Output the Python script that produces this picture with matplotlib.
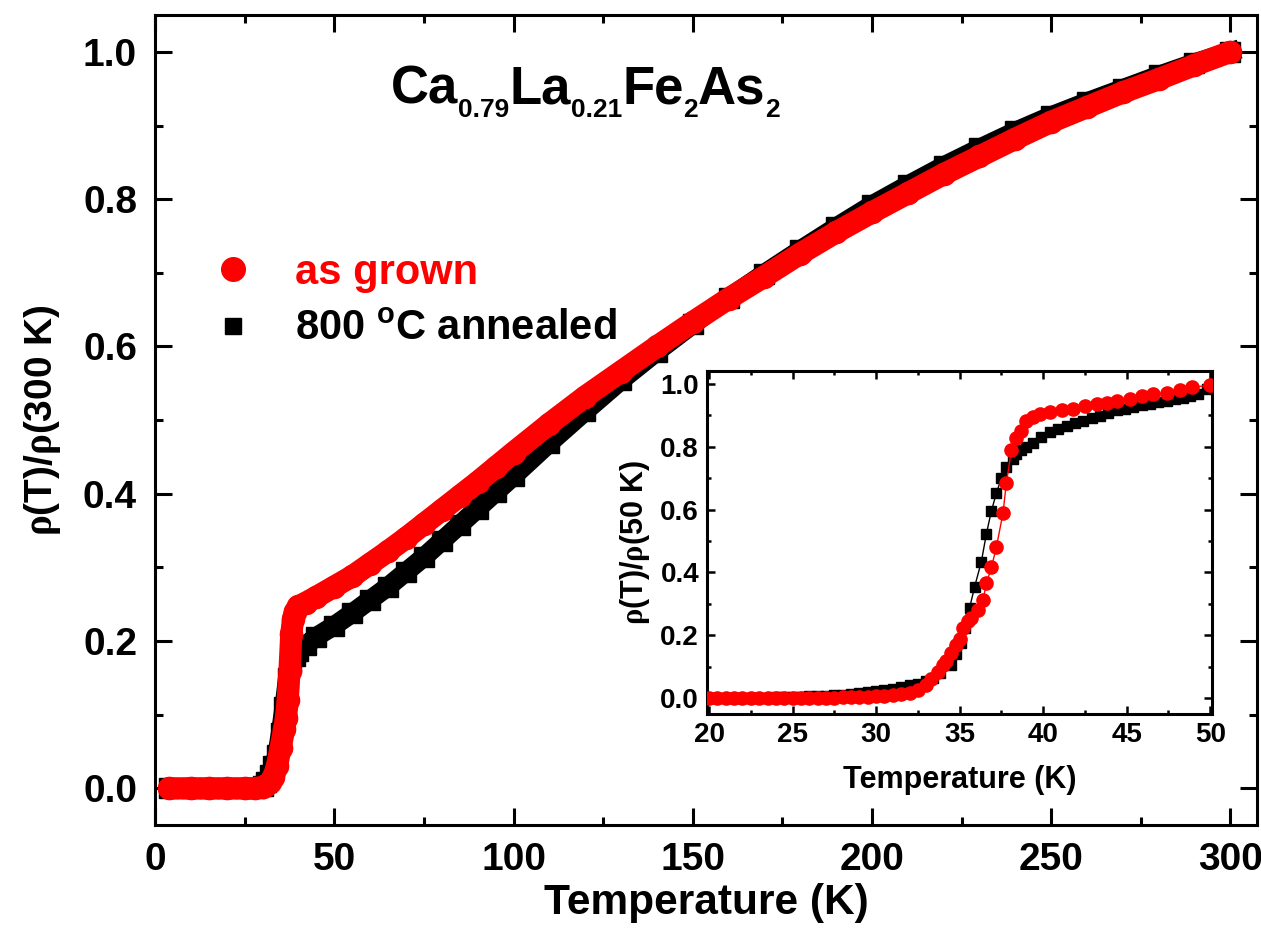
import matplotlib
matplotlib.use("Agg")
import matplotlib.pyplot as plt
from matplotlib import font_manager
from matplotlib.ticker import MultipleLocator
from matplotlib.transforms import offset_copy

plt.rcParams['font.family'] = ['Liberation Sans', 'DejaVu Sans']
plt.rcParams['font.weight'] = 'bold'
plt.rcParams['mathtext.fontset'] = 'custom'
plt.rcParams['mathtext.rm'] = 'Liberation Sans:bold'
plt.rcParams['mathtext.bf'] = 'Liberation Sans:bold'
plt.rcParams['mathtext.it'] = 'Liberation Serif'

# main panel: rho(T)/rho(300 K)
T_grown = [4, 10, 15, 20, 25, 28, 30, 31, 32, 33, 34, 35, 36, 36.5, 37, 37.5,
           38, 38.5, 39, 40, 42, 45, 50, 55, 60, 65, 70, 75, 80, 85, 90, 95,
           100, 110, 120, 130, 140, 150, 160, 170, 180, 190, 200, 210, 220,
           230, 240, 250, 260, 270, 280, 290, 300]
rho_grown = [0.0, 0.0, 0.0, 0.0, 0.0, 0.0, 0.002, 0.004, 0.008, 0.015, 0.03,
             0.055, 0.08, 0.095, 0.12, 0.16, 0.21, 0.23, 0.24, 0.247, 0.252,
             0.26, 0.274, 0.288, 0.305, 0.322, 0.34, 0.359, 0.378, 0.397,
             0.416, 0.436, 0.456, 0.495, 0.532, 0.566, 0.60, 0.633, 0.665,
             0.695, 0.726, 0.755, 0.782, 0.808, 0.834, 0.858, 0.882, 0.905,
             0.925, 0.945, 0.963, 0.982, 1.0]

T_ann = [4, 10, 15, 20, 25, 28, 30, 31, 32, 33, 34, 35, 36, 37, 38, 39, 40,
         42, 45, 50, 55, 60, 65, 70, 75, 80, 85, 90, 95, 100, 110, 120, 130,
         140, 150, 160, 170, 180, 190, 200, 210, 220, 230, 240, 250, 260, 270,
         280, 290, 300]
rho_ann = [0.0, 0.0, 0.0, 0.0, 0.0, 0.001, 0.003, 0.008, 0.018, 0.03, 0.045,
           0.075, 0.11, 0.15, 0.172, 0.18, 0.186, 0.194, 0.206, 0.221, 0.238,
           0.256, 0.274, 0.294, 0.314, 0.336, 0.358, 0.38, 0.402, 0.424,
           0.469, 0.512, 0.554, 0.593, 0.63, 0.666, 0.699, 0.731, 0.762,
           0.792, 0.819, 0.845, 0.869, 0.892, 0.913, 0.932, 0.95, 0.968,
           0.985, 1.0]

# inset: rho(T)/rho(50 K)
Ti_grown = [20, 20.5, 21, 21.5, 22, 22.5, 23, 23.5, 24, 24.5, 25, 25.5, 26,
            26.5, 27, 27.5, 28, 28.5, 29, 29.5, 30, 30.5, 31, 31.5, 32, 32.5,
            33, 33.3, 33.7, 34, 34.2, 34.5, 34.8, 35, 35.2, 35.5, 35.7, 36.1,
            36.4, 36.6, 36.9, 37.2, 37.6, 37.8, 38.1, 38.4, 38.7, 39.0, 39.4,
            39.8, 40.4, 41.1, 41.8, 42.5, 43.2, 43.8, 44.4, 45.2, 45.9, 46.6,
            47.4, 48.2, 48.9, 50.0]
ri_grown = [0.0, 0.0, 0.0, 0.0, 0.0, 0.0, 0.0, 0.0, 0.001, 0.001, 0.001,
            0.001, 0.001, 0.002, 0.002, 0.002, 0.003, 0.003, 0.004, 0.005,
            0.006, 0.008, 0.01, 0.013, 0.018, 0.027, 0.042, 0.06, 0.085,
            0.105, 0.118, 0.143, 0.17, 0.19, 0.222, 0.245, 0.255, 0.28,
            0.312, 0.365, 0.416, 0.48, 0.59, 0.685, 0.788, 0.829, 0.851,
            0.883, 0.895, 0.905, 0.91, 0.915, 0.92, 0.928, 0.937, 0.94, 0.946,
            0.953, 0.962, 0.966, 0.972, 0.98, 0.989, 0.995]

Ti_ann = [20, 20.5, 21, 21.5, 22, 22.5, 23, 23.5, 24, 24.5, 25, 25.5, 26,
          26.5, 27, 27.5, 28, 28.5, 29, 29.5, 30, 30.5, 31, 31.5, 32, 32.5,
          33, 33.4, 33.8, 34.5, 34.8, 35.1, 35.3, 35.6, 35.9, 36.3, 36.6,
          36.9, 37.2, 37.5, 37.8, 38.2, 38.4, 38.7, 39.0, 39.4, 39.9, 40.4,
          40.9, 41.4, 41.9, 42.4, 42.9, 43.4, 43.9, 44.4, 44.9, 45.4, 45.9,
          46.4, 46.9, 47.4, 47.9, 48.4, 48.8, 49.3, 49.8]
ri_ann = [0.0, 0.0, 0.0, 0.001, 0.001, 0.001, 0.002, 0.002, 0.003, 0.003,
          0.004, 0.005, 0.006, 0.007, 0.008, 0.01, 0.012, 0.014, 0.017, 0.02,
          0.023, 0.027, 0.031, 0.036, 0.041, 0.047, 0.055, 0.065, 0.08,
          0.107, 0.14, 0.177, 0.225, 0.288, 0.355, 0.434, 0.522, 0.595,
          0.652, 0.70, 0.735, 0.76, 0.778, 0.79, 0.80, 0.813, 0.83, 0.845,
          0.857, 0.867, 0.876, 0.883, 0.891, 0.899, 0.907, 0.915, 0.92,
          0.925, 0.931, 0.937, 0.941, 0.946, 0.951, 0.956, 0.962, 0.968,
          0.984]

formula = [('Ca', False), ('0.79', True), ('La', False), ('0.21', True),
           ('Fe', False), ('2', True), ('As', False), ('2', True)]

RED = '#ff0000'

names = {f.name for f in font_manager.fontManager.ttflist}
narrow = 'Liberation Sans Narrow' if 'Liberation Sans Narrow' in names else 'Liberation Sans'

fig = plt.figure(figsize=(12.61, 9.42), dpi=100)
ax = fig.add_axes([0.123, 0.124, 0.874, 0.860])

# dense data drawn as thick band plus markers
ax.plot(T_ann, rho_ann, color='black', lw=14, solid_joinstyle='miter', zorder=2)
ax.plot(T_ann, rho_ann, 's', color='black', ms=14, zorder=2)
ax.plot(T_grown, rho_grown, color=RED, lw=16, solid_capstyle='round',
        solid_joinstyle='round', zorder=3)
ax.plot(T_grown, rho_grown, 'o', color=RED, ms=16, zorder=3)

ax.set_xlim(0, 307.5)
ax.set_ylim(-0.05, 1.05)
ax.xaxis.set_major_locator(MultipleLocator(50))
ax.xaxis.set_minor_locator(MultipleLocator(25))
ax.yaxis.set_major_locator(MultipleLocator(0.2))
ax.yaxis.set_minor_locator(MultipleLocator(0.1))
ax.tick_params(which='both', direction='in', top=True, right=True, width=2.2)
ax.tick_params(which='major', length=12, labelsize=28)
ax.tick_params(axis='x', which='major', pad=12)
ax.tick_params(axis='y', which='major', pad=13)
ax.tick_params(which='minor', length=6)
for s in ax.spines.values():
    s.set_linewidth(2.2)
for lab in ax.get_xticklabels() + ax.get_yticklabels():
    lab.set_fontweight('bold')
ax.set_xlabel('Temperature (K)', fontsize=30.5, fontweight='bold', labelpad=4)
ax.set_ylabel(r'$\rho$(T)/$\rho$(300 K)', fontsize=28, fontweight='bold',
              labelpad=14)

# chemical formula with small, lowered subscripts
renderer = fig.canvas.get_renderer()
off = 0.0
for piece, sub in formula:
    tr = offset_copy(ax.transAxes, fig=fig, x=off, y=-10 if sub else 0,
                     units='points')
    t = ax.text(0.214, 0.891, piece, transform=tr, ha='left', va='baseline',
                fontsize=19 if sub else 38, fontweight='bold')
    off += t.get_window_extent(renderer).width * 72.0 / fig.dpi

h1, = ax.plot([], [], 'o', color=RED, ms=17)
h2, = ax.plot([], [], 's', color='black', ms=12)
leg = ax.legend([h1, h2], ['as grown', r'800 $\mathregular{^o}$C annealed'],
                loc='center left', bbox_to_anchor=(0.0517, 0.647),
                frameon=False, handlelength=1.0, handletextpad=0.99,
                labelspacing=0.39, borderpad=0, borderaxespad=0,
                prop={'weight': 'bold', 'size': 30})
leg.get_texts()[0].set_color(RED)

# inset
axi = fig.add_axes([0.561, 0.242, 0.400, 0.364])
axi.plot(Ti_ann, ri_ann, '-s', color='black', lw=1, ms=7, zorder=2)
axi.plot(Ti_grown, ri_grown, '-o', color=RED, lw=1, ms=9.5, zorder=3)
axi.set_xlim(19.9, 50.1)
axi.set_ylim(-0.05, 1.04)
axi.xaxis.set_major_locator(MultipleLocator(5))
axi.xaxis.set_minor_locator(MultipleLocator(2.5))
axi.yaxis.set_major_locator(MultipleLocator(0.2))
axi.yaxis.set_minor_locator(MultipleLocator(0.1))
axi.tick_params(which='both', direction='in', top=True, right=True, width=1.8)
axi.tick_params(which='major', length=6, labelsize=20, pad=6)
axi.tick_params(which='minor', length=3)
for s in axi.spines.values():
    s.set_linewidth(2.2)
for lab in axi.get_xticklabels() + axi.get_yticklabels():
    lab.set_fontweight('bold')
    lab.set_family(narrow)
axi.set_xlabel('Temperature (K)', fontsize=22, fontweight='bold',
               family=narrow, labelpad=12)
axi.set_ylabel(r'$\rho$(T)/$\rho$(50 K)', fontsize=22, fontweight='bold',
               family=narrow, labelpad=6)

fig.savefig('out.png', dpi=100)
